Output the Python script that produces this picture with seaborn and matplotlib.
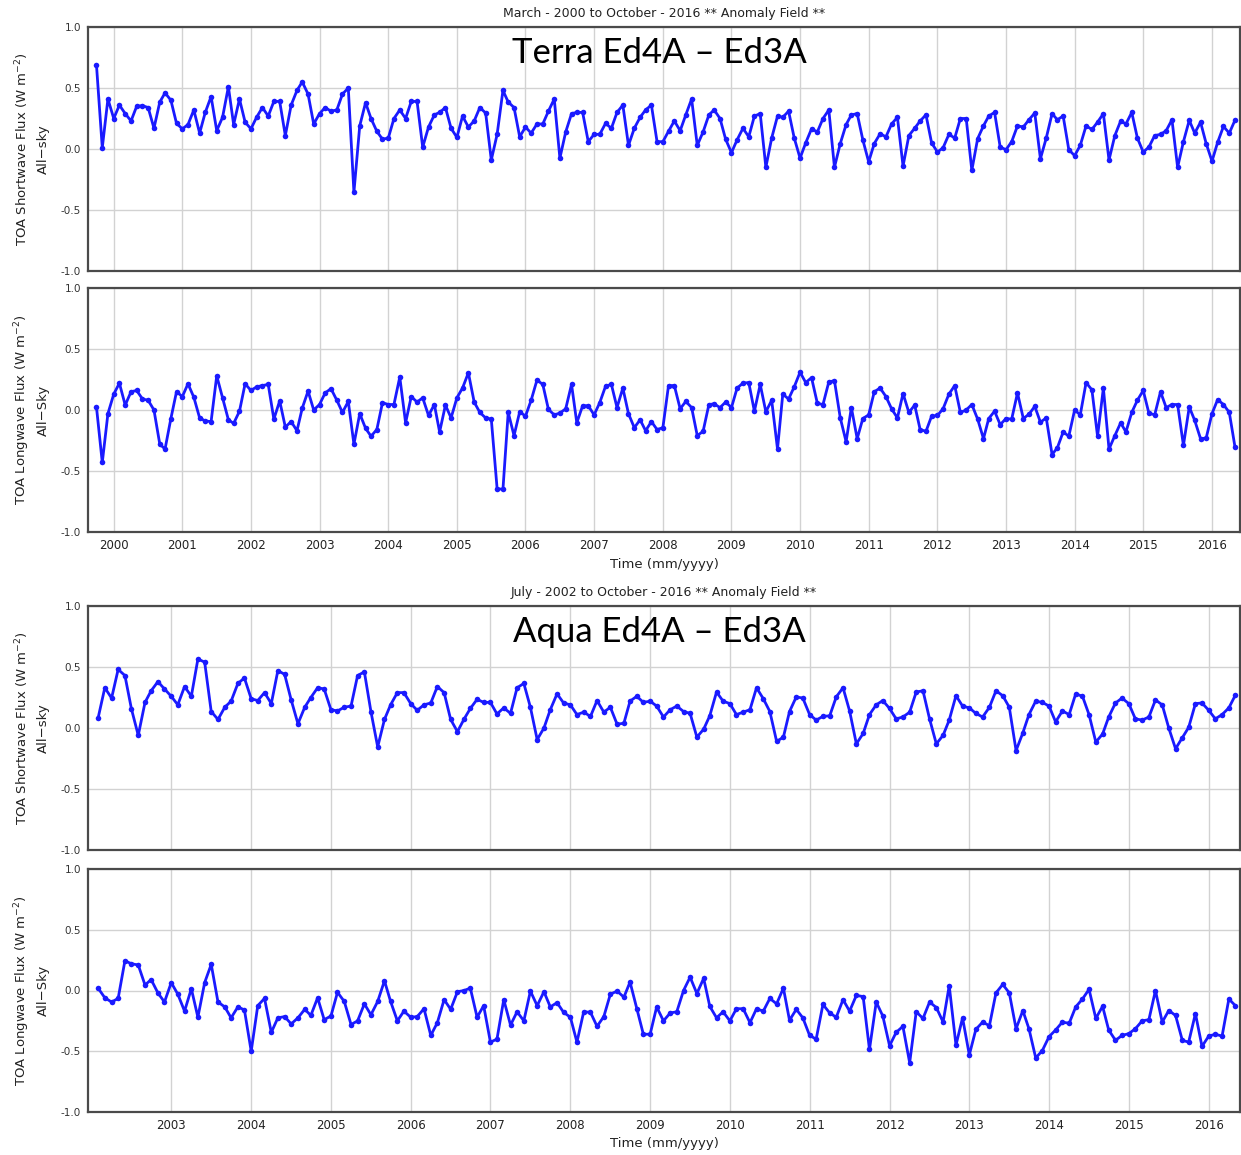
import pandas as pd
import seaborn as sns
import matplotlib.pyplot as plt

# monthly anomaly differences (Ed4A - Ed3A)
terra_sw = [0.69, 0.01, 0.41, 0.25, 0.36, 0.29, 0.23, 0.35, 0.355, 0.34,
            0.17, 0.385, 0.46, 0.40, 0.21, 0.165, 0.20, 0.32, 0.13, 0.30,
            0.43, 0.15, 0.26, 0.51, 0.20, 0.41, 0.22, 0.165, 0.26, 0.34,
            0.27, 0.39, 0.39, 0.11, 0.36, 0.48, 0.55, 0.45, 0.205, 0.29,
            0.34, 0.31, 0.32, 0.45, 0.50, -0.355, 0.19, 0.38, 0.25, 0.145,
            0.08, 0.09, 0.25, 0.32, 0.25, 0.39, 0.39, 0.015, 0.18, 0.28,
            0.30, 0.34, 0.17, 0.095, 0.27, 0.18, 0.23, 0.34, 0.295, -0.09,
            0.12, 0.48, 0.385, 0.34, 0.10, 0.18, 0.13, 0.205, 0.205, 0.31,
            0.41, -0.075, 0.14, 0.29, 0.30, 0.30, 0.06, 0.12, 0.12, 0.21,
            0.17, 0.30, 0.36, 0.03, 0.17, 0.26, 0.32, 0.36, 0.06, 0.06,
            0.145, 0.23, 0.15, 0.28, 0.41, 0.03, 0.14, 0.28, 0.32, 0.25,
            0.08, -0.03, 0.075, 0.17, 0.10, 0.27, 0.29, -0.15, 0.09, 0.27,
            0.26, 0.31, 0.09, -0.075, 0.05, 0.165, 0.14, 0.25, 0.32, -0.15,
            0.045, 0.20, 0.28, 0.29, 0.075, -0.105, 0.045, 0.125, 0.10, 0.205,
            0.26, -0.14, 0.11, 0.17, 0.23, 0.28, 0.05, -0.025, 0.01, 0.12,
            0.09, 0.25, 0.25, -0.175, 0.085, 0.19, 0.27, 0.30, 0.015, -0.005,
            0.06, 0.19, 0.18, 0.24, 0.295, -0.08, 0.09, 0.29, 0.24, 0.27,
            -0.005, -0.055, 0.03, 0.19, 0.16, 0.22, 0.29, -0.09, 0.11, 0.23,
            0.205, 0.30, 0.09, -0.025, 0.015, 0.11, 0.12, 0.15, 0.24, -0.15,
            0.06, 0.235, 0.13, 0.22, 0.045, -0.10, 0.055, 0.185, 0.13, 0.235]

terra_lw = [0.025, -0.43, -0.03, 0.13, 0.22, 0.04, 0.15, 0.16, 0.09, 0.08,
            0.0, -0.28, -0.32, -0.07, 0.15, 0.11, 0.215, 0.105, -0.065, -0.09,
            -0.095, 0.28, 0.10, -0.08, -0.11, -0.01, 0.215, 0.16, 0.19, 0.20,
            0.21, -0.075, 0.075, -0.14, -0.095, -0.17, 0.015, 0.155, 0.0, 0.045,
            0.14, 0.175, 0.08, -0.02, 0.07, -0.28, -0.03, -0.15, -0.215, -0.16,
            0.06, 0.045, 0.045, 0.27, -0.105, 0.11, 0.065, 0.10, -0.045, 0.045,
            -0.18, 0.04, -0.065, 0.10, 0.18, 0.305, 0.065, -0.02, -0.065, -0.075,
            -0.645, -0.65, -0.02, -0.21, -0.015, -0.05, 0.08, 0.245, 0.21, 0.005,
            -0.04, -0.025, 0.01, 0.21, -0.105, 0.035, 0.035, -0.04, 0.06, 0.195,
            0.21, 0.02, 0.18, -0.03, -0.145, -0.08, -0.17, -0.095, -0.16, -0.145,
            0.20, 0.20, 0.01, 0.07, 0.02, -0.21, -0.175, 0.045, 0.05, 0.02,
            0.065, 0.02, 0.18, 0.22, 0.225, -0.01, 0.21, -0.015, 0.08, -0.32,
            0.13, 0.09, 0.19, 0.31, 0.225, 0.265, 0.055, 0.045, 0.23, 0.24,
            -0.065, -0.26, 0.02, -0.235, -0.07, -0.04, 0.15, 0.18, 0.11, 0.01,
            -0.065, 0.135, -0.02, 0.04, -0.16, -0.175, -0.05, -0.045, 0.01, 0.13,
            0.20, -0.02, 0.0, 0.045, -0.075, -0.235, -0.07, -0.01, -0.12, -0.07,
            -0.075, 0.14, -0.07, -0.035, 0.03, -0.10, -0.065, -0.365, -0.31, -0.18,
            -0.215, 0.0, -0.04, 0.225, 0.165, -0.215, 0.18, -0.32, -0.21, -0.105,
            -0.18, -0.02, 0.08, 0.16, -0.025, -0.04, 0.15, 0.02, 0.045, 0.045,
            -0.29, 0.025, -0.085, -0.235, -0.23, -0.03, 0.085, 0.045, -0.02, -0.30]

aqua_sw = [0.08, 0.33, 0.245, 0.48, 0.43, 0.155, -0.06, 0.21, 0.305, 0.38,
           0.32, 0.26, 0.19, 0.34, 0.26, 0.565, 0.54, 0.135, 0.07, 0.17,
           0.22, 0.365, 0.41, 0.24, 0.225, 0.29, 0.20, 0.47, 0.44, 0.23,
           0.035, 0.17, 0.25, 0.33, 0.32, 0.15, 0.14, 0.17, 0.18, 0.43,
           0.46, 0.135, -0.155, 0.07, 0.19, 0.29, 0.29, 0.20, 0.145, 0.19,
           0.205, 0.34, 0.29, 0.07, -0.03, 0.075, 0.16, 0.235, 0.21, 0.21,
           0.115, 0.165, 0.12, 0.33, 0.365, 0.17, -0.095, 0.0, 0.15, 0.28,
           0.205, 0.19, 0.11, 0.13, 0.095, 0.225, 0.13, 0.17, 0.03, 0.04,
           0.22, 0.26, 0.21, 0.22, 0.18, 0.09, 0.15, 0.18, 0.135, 0.12,
           -0.075, -0.01, 0.10, 0.295, 0.22, 0.20, 0.11, 0.13, 0.15, 0.33,
           0.24, 0.135, -0.11, -0.075, 0.135, 0.255, 0.245, 0.11, 0.065, 0.095,
           0.10, 0.255, 0.33, 0.14, -0.13, -0.045, 0.11, 0.19, 0.225, 0.16,
           0.075, 0.09, 0.13, 0.295, 0.305, 0.075, -0.13, -0.06, 0.065, 0.265,
           0.18, 0.165, 0.12, 0.09, 0.17, 0.305, 0.265, 0.17, -0.185, -0.04,
           0.11, 0.22, 0.21, 0.18, 0.05, 0.14, 0.11, 0.28, 0.26, 0.11,
           -0.115, -0.05, 0.09, 0.205, 0.245, 0.20, 0.075, 0.065, 0.09, 0.23,
           0.19, 0.0, -0.17, -0.08, 0.005, 0.20, 0.205, 0.145, 0.075, 0.11,
           0.165, 0.27]

aqua_lw = [0.02, -0.06, -0.095, -0.065, 0.245, 0.22, 0.21, 0.045, 0.09, -0.02,
           -0.095, 0.065, -0.03, -0.17, 0.015, -0.22, 0.065, 0.215, -0.095, -0.135,
           -0.225, -0.135, -0.16, -0.50, -0.125, -0.065, -0.345, -0.225, -0.215, -0.275,
           -0.225, -0.155, -0.205, -0.06, -0.24, -0.21, -0.015, -0.09, -0.28, -0.25,
           -0.11, -0.20, -0.09, 0.08, -0.09, -0.25, -0.17, -0.22, -0.215, -0.15,
           -0.37, -0.265, -0.075, -0.155, -0.01, 0.0, 0.02, -0.22, -0.125, -0.425,
           -0.40, -0.075, -0.285, -0.175, -0.25, -0.005, -0.125, -0.01, -0.135, -0.10,
           -0.18, -0.22, -0.425, -0.175, -0.18, -0.295, -0.215, -0.03, -0.005, -0.055,
           0.07, -0.15, -0.36, -0.36, -0.135, -0.25, -0.185, -0.175, 0.0, 0.11,
           -0.025, 0.10, -0.13, -0.225, -0.175, -0.25, -0.15, -0.15, -0.265, -0.15,
           -0.17, -0.065, -0.11, 0.02, -0.245, -0.155, -0.225, -0.37, -0.40, -0.115,
           -0.185, -0.22, -0.075, -0.17, -0.04, -0.05, -0.485, -0.095, -0.21, -0.455,
           -0.345, -0.295, -0.595, -0.175, -0.23, -0.095, -0.14, -0.26, 0.04, -0.45,
           -0.225, -0.53, -0.32, -0.26, -0.29, -0.02, 0.05, -0.02, -0.315, -0.165,
           -0.315, -0.555, -0.495, -0.38, -0.325, -0.26, -0.27, -0.135, -0.07, 0.01,
           -0.23, -0.13, -0.325, -0.41, -0.37, -0.355, -0.315, -0.25, -0.24, 0.0,
           -0.26, -0.165, -0.205, -0.41, -0.425, -0.19, -0.46, -0.375, -0.36, -0.375,
           -0.07, -0.125]

terra_years = list(range(2000, 2017))
aqua_years = list(range(2003, 2017))
yticks = [-1.0, -0.5, 0.0, 0.5, 1.0]

terra_dates = pd.date_range("2000-03-01", periods=len(terra_sw), freq="MS")
aqua_dates = pd.date_range("2002-07-01", periods=len(aqua_sw), freq="MS")

sns.set_style("whitegrid")
plt.rcParams["font.family"] = ["DejaVu Sans"]
plt.rcParams["axes.unicode_minus"] = False

fig = plt.figure(figsize=(12.41, 11.55), dpi=100)
W, H = 1241, 1155

def make_ax(top, bottom):
    return fig.add_axes([88 / W, 1 - bottom / H, 1152 / W, (bottom - top) / H])

ax1 = make_ax(27, 271)
ax2 = make_ax(288, 532)
ax3 = make_ax(606, 850)
ax4 = make_ax(869, 1112)

line_color = "#1a1aff"

panels = [
    (ax1, terra_dates, terra_sw, terra_years, "2000-01-16", "2016-10-28",
     "TOA Shortwave Flux (W m$^{-2}$)", "All\u2212sky", False),
    (ax2, terra_dates, terra_lw, terra_years, "2000-01-16", "2016-10-28",
     "TOA Longwave Flux (W m$^{-2}$)", "All\u2212Sky", True),
    (ax3, aqua_dates, aqua_sw, aqua_years, "2002-05-16", "2016-10-22",
     "TOA Shortwave Flux (W m$^{-2}$)", "All\u2212sky", False),
    (ax4, aqua_dates, aqua_lw, aqua_years, "2002-05-16", "2016-10-22",
     "TOA Longwave Flux (W m$^{-2}$)", "All\u2212Sky", True),
]

for ax, dates, vals, years, x0, x1, lab1, lab2, show_x in panels:
    df = pd.DataFrame({"date": dates, "value": vals})
    sns.lineplot(data=df, x="date", y="value", ax=ax, color=line_color,
                 linewidth=2, marker="o", markersize=4, markeredgewidth=0)
    ax.set_xlim(pd.Timestamp(x0), pd.Timestamp(x1))
    ax.set_ylim(-1.0, 1.0)
    ticks = [pd.Timestamp(f"{y}-06-01") for y in years]
    ax.set_xticks(ticks)
    ax.set_yticks(yticks)
    ax.set_yticklabels([f"{t:.1f}" for t in yticks], fontsize=7.5, color="#333333")
    if show_x:
        ax.set_xticklabels([str(y) for y in years], fontsize=8.5, color="#222222")
        ax.set_xlabel("Time (mm/yyyy)", fontsize=9.5, color="#222222", labelpad=4)
    else:
        ax.set_xticklabels([])
        ax.set_xlabel("")
    ax.set_ylabel("")
    ax.tick_params(length=0, pad=5)
    ax.grid(True, color="#d2d2d2", linewidth=1.0)
    for sp in ax.spines.values():
        sp.set_color("#4a4a4a")
        sp.set_linewidth(1.6)
    ax.text(-0.0575, 0.5, lab1, transform=ax.transAxes, rotation=90,
            ha="center", va="center", fontsize=9.5, color="#222222")
    ax.text(-0.0385, 0.5, lab2, transform=ax.transAxes, rotation=90,
            ha="center", va="center", fontsize=9.5, color="#222222")

ax1.set_title("March - 2000 to October - 2016 ** Anomaly Field **",
              fontsize=9, color="#222222", pad=7)
ax3.set_title("July - 2002 to October - 2016 ** Anomaly Field **",
              fontsize=9, color="#222222", pad=7)

ax1.text(0.496, 0.895, "Terra Ed4A \u2013 Ed3A", transform=ax1.transAxes,
         ha="center", va="center", fontsize=25, color="black",
         family=["Lato", "DejaVu Sans"])
ax3.text(0.496, 0.895, "Aqua Ed4A \u2013 Ed3A", transform=ax3.transAxes,
         ha="center", va="center", fontsize=25, color="black",
         family=["Lato", "DejaVu Sans"])

fig.savefig("out.png", dpi=100)
